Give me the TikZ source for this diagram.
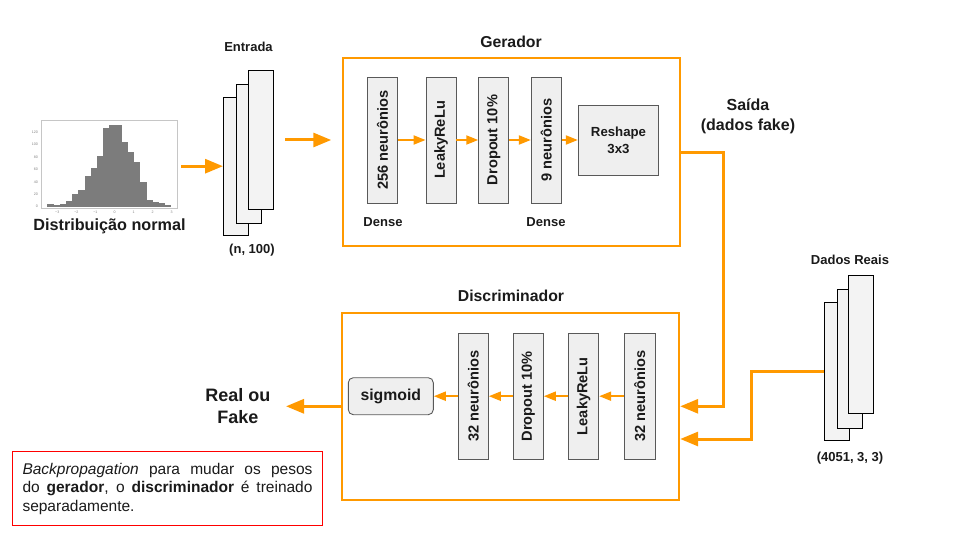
\documentclass[tikz,border=0pt]{standalone}
\usepackage{fontspec}
\setmainfont{Liberation Sans}
\usetikzlibrary{arrows.meta,calc}
\definecolor{org}{HTML}{FF9900}
\definecolor{boxfill}{HTML}{EFEFEF}
\definecolor{boxline}{HTML}{595959}
\definecolor{stackfill}{HTML}{F3F3F3}
\definecolor{barc}{HTML}{7C7C7C}
\definecolor{txt}{HTML}{1A1A1A}
\begin{document}
\begin{tikzpicture}[x=1pt,y=-1pt,
  bigarr/.style={draw=org, line width=3pt, -{Triangle[length=18pt,width=14pt]}},
  smallarr/.style={draw=org, line width=2pt, -{Triangle[length=12pt,width=9pt]}},
  frame/.style={draw=org, line width=1.8pt, rectangle, inner sep=0pt},
  layer/.style={draw=boxline, fill=boxfill, line width=0.9pt, minimum width=30pt, minimum height=126pt, inner sep=0pt},
  rot/.style={rotate=90, font=\fontsize{14.6}{17}\selectfont\bfseries, text=txt},
  pagebox/.style={draw=black, fill=stackfill, line width=1pt, minimum width=25pt, inner sep=0pt},
  lbl/.style={font=\fontsize{13}{16}\selectfont\bfseries, text=txt},
  ttl/.style={font=\fontsize{15.8}{19}\selectfont\bfseries, text=txt},
  tick/.style={font=\fontsize{3.6}{4}\selectfont, text=gray, inner sep=0pt},
]
\useasboundingbox (0,0) rectangle (960,540);

% ---------- histogram ----------
\node[draw=gray!45, line width=0.8pt, minimum width=136pt, minimum height=88pt, inner sep=0pt] (hist) at (109,164) {};
\foreach \h [count=\i from 0] in {5,2,4,10,20,27,50,62,82,127,132,132,104,88,72,40,11,7,6,3}
  \fill[barc] ({47.3+6.2*\i},206.7) rectangle ({47.3+6.2*(\i+1)},{206.7-0.62*\h});
\foreach \v [count=\i from 0] in {0,20,40,60,80,100,120}
  \node[tick, anchor=east] (yt\i) at (38,{206.7-0.62*\v}) {\v};
\foreach \v [count=\i from 0] in {−3,−2,−1,0,1,2,3}
  \node[tick] (xt\i) at ({57.3+19.07*\i},212) {\v};
\node[font=\fontsize{16.2}{19}\selectfont\bfseries, text=txt] (histlbl) at (109.5,226) {Distribuição normal};

% ---------- Entrada stack ----------
\node[lbl] (entlbl) at (248.5,47) {Entrada};
\node[pagebox, minimum height=137.7pt] (e1) at (236,166.2) {};
\node[pagebox, minimum height=139pt] (e2) at (249.2,153.8) {};
\node[pagebox, minimum height=138.3pt] (e3) at (260.7,139.85) {};
\node[lbl] (entdim) at (252,250) {(n, 100)};

\coordinate (hin) at (181,166.2);
\draw[bigarr] (hin) -- (e1.west);

% ---------- Gerador ----------
\node[ttl] (gentl) at (511,42) {Gerador};
\node[frame, minimum width=337.3pt, minimum height=187.7pt] (gen) at (511.3,152.2) {};

\coordinate (gin) at (285,140);
\draw[bigarr, shorten >=10.5pt] (gin) -- (gin -| gen.west);

\node[layer] (g1) at (382.5,140) {};
\node[rot] (g1t) at (g1) {256 neurônios};
\node[layer] (g2) at (441,140) {};
\node[rot] (g2t) at (g2) {LeakyReLu};
\node[layer] (g3) at (493.7,140) {};
\node[rot] (g3t) at (g3) {Dropout 10\%};
\node[layer] (g4) at (546.3,140) {};
\node[rot] (g4t) at (g4) {9 neurônios};
\node[draw=boxline, fill=boxfill, line width=0.9pt, minimum width=80.4pt, minimum height=69.6pt, inner sep=0pt,
      align=center, font=\fontsize{13.2}{16.7}\selectfont\bfseries, text=txt] (g5) at (618.5,140.5) {Reshape\\3x3};

\draw[smallarr] (g1.east) -- (g2.west);
\draw[smallarr] (g2.east) -- (g3.west);
\draw[smallarr] (g3.east) -- (g4.west);
\draw[smallarr] (g4.east) -- (g4.east -| g5.west);

\node[lbl] (dense1) at (383,222) {Dense};
\node[lbl] (dense2) at (546,222) {Dense};

\node[align=center, font=\fontsize{16}{20}\selectfont\bfseries, text=txt] (sai) at (748,116) {Saída\\(dados fake)};

% ---------- Discriminador ----------
\node[ttl] (disctl) at (511,296) {Discriminador};
\node[frame, minimum width=337pt, minimum height=187.3pt] (disc) at (510.8,406.3) {};

\node[layer, minimum height=125.7pt] (d1) at (473.3,396.2) {};
\node[rot] (d1t) at (d1) {32 neurônios};
\node[layer, minimum height=125.7pt] (d2) at (528.3,396.2) {};
\node[rot] (d2t) at (d2) {Dropout 10\%};
\node[layer, minimum height=125.7pt] (d3) at (583.7,396.2) {};
\node[rot] (d3t) at (d3) {LeakyReLu};
\node[layer, minimum height=125.7pt, minimum width=31pt] (d4) at (639.8,396.2) {};
\node[rot] (d4t) at (d4) {32 neurônios};
\node[draw=boxline, fill=boxfill, line width=0.9pt, rounded corners=5pt, minimum width=85pt, minimum height=37pt, inner sep=0pt,
      font=\fontsize{15.8}{19}\selectfont\bfseries, text=txt] (sig) at (390.8,396.2) {sigmoid};

\draw[smallarr] (d4.west) -- (d3.east);
\draw[smallarr] (d3.west) -- (d2.east);
\draw[smallarr] (d2.west) -- (d1.east);
\draw[smallarr] (d1.west) -- (sig.east);

% generator output into discriminator
\draw[bigarr] (gen.east) -- ++(43,0) |- (disc.east);

% ---------- Dados Reais ----------
\node[lbl] (reallbl) at (850,260) {Dados Reais};
\node[pagebox, minimum height=138.3pt] (r1) at (837.3,371.15) {};
\node[pagebox, minimum height=139pt] (r2) at (850.3,358.8) {};
\node[pagebox, minimum height=138.3pt] (r3) at (861.3,344.15) {};
\node[lbl] (realdim) at (850,458) {(4051, 3, 3)};

\coordinate (din) at (680,439);
\draw[bigarr] (r1.west) -- ++(-72.6,0) |- (disc.east |- din);

% ---------- output ----------
\node[align=center, font=\fontsize{18}{22}\selectfont\bfseries, text=txt] (rof) at (237.8,406) {Real ou\\Fake};
\coordinate (rofa) at (286,406.3);
\draw[bigarr] (disc.west) -- (rofa);

% ---------- note ----------
\node[draw=red, line width=1pt, text width=290pt, align=justify, inner xsep=10.3pt, inner ysep=0pt,
      minimum height=74.3pt, font=\fontsize{15.5}{18.5}\selectfont, text=txt] (note) at (167.5,488.8)
  {\textit{Backpropagation} para mudar os pesos\linebreak do \textbf{gerador}, o \textbf{discriminador} é treinado\linebreak separadamente.};
\end{tikzpicture}
\end{document}
